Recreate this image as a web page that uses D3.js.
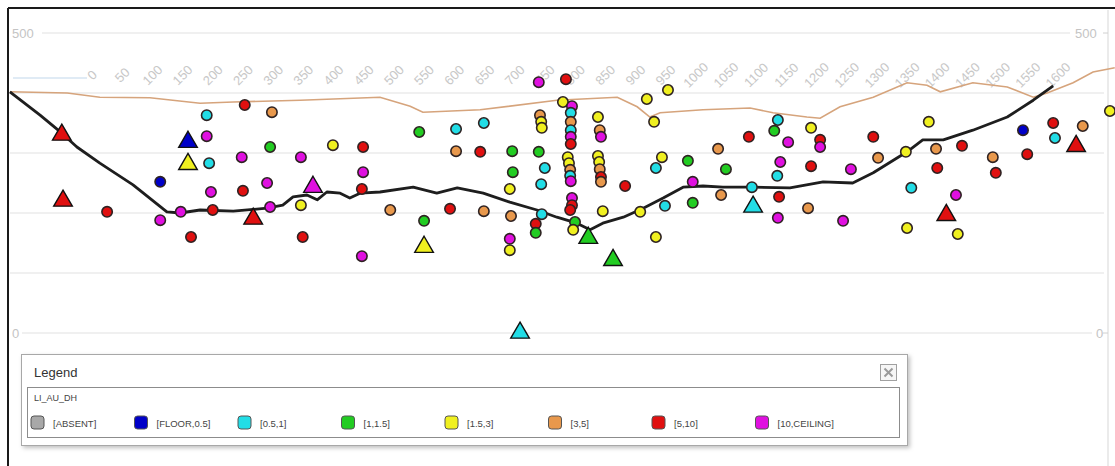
<!DOCTYPE html>
<html>
<head>
<meta charset="utf-8">
<script src="https://cdn.jsdelivr.net/npm/d3@7"></script>
<style>
  html, body { margin: 0; padding: 0; background: #fff; }
  svg { display: block; font-family: "Liberation Sans", Arial, sans-serif; }
</style>
</head>
<body>
<div id="chart"></div>
<script>
// legend classes for LI_AU_DH
var categories = ['[ABSENT]', '[FLOOR,0.5]', '[0.5,1]', '[1,1.5]', '[1.5,3]', '[3,5]', '[5,10]', '[10,CEILING]'];
var catColors = ['#a8a8a8', '#0000c8', '#22dde6', '#22cc22', '#f0f020', '#e8984c', '#e01010', '#e010e0'];

// section distance ticks along the top
var topTicks = [0, 50, 100, 150, 200, 250, 300, 350, 400, 450, 500, 550, 600, 650, 700, 750, 800,
   850, 900, 950, 1000, 1050, 1100, 1150, 1200, 1250, 1300, 1350, 1400, 1450, 1500, 1550, 1600];
var elevTicks = [0, 100, 200, 300, 400, 500];
var elevLabels = [0, 500];

// topography (tan)
var surfX = [-136, -41, 13, 96, 179, 234, 345, 477, 527, 548, 643, 770, 870, 903, 924, 941, 1012, 1090,
   1128, 1184, 1206, 1239, 1294, 1350, 1383, 1405, 1459, 1516, 1559, 1582, 1625, 1658, 1694];
var surfY = [402, 400, 393, 392, 383, 385, 388, 393, 378, 368, 372, 388, 393, 377, 360, 367, 372, 375,
   367, 360, 358, 377, 393, 417, 413, 402, 417, 410, 393, 400, 417, 435, 442];

// lower surface (black)
var lineX = [-136, -86, -50, -25, 13, 68, 124, 146, 179, 234, 290, 316, 333, 356, 373, 389, 411, 427, 444, 477,
   532, 571, 605, 648, 692, 737, 770, 803, 825, 846, 880, 913, 946, 979, 1012, 1045, 1093, 1156, 1211, 1260,
   1294, 1350, 1376, 1410, 1459, 1516, 1559, 1592];
var lineY = [402, 363, 333, 310, 283, 247, 202, 200, 205, 203, 208, 213, 227, 230, 222, 235, 233, 225, 233, 235,
   243, 233, 242, 233, 218, 205, 193, 183, 172, 183, 193, 208, 225, 243, 245, 243, 243, 242, 252, 250,
   267, 302, 322, 322, 338, 360, 388, 412];

// drill hole samples (circles)
var sampleX = [25, 113, 113, 147, 190, 194, 197, 164, 200, 190, 253, 248, 250, 298, 295, 290, 295, 346, 346, 349,
   399, 449, 449, 447, 447, 494, 550, 542, 603, 603, 643, 649, 593, 649, 696, 697, 692, 694, 692, 692,
   740, 750, 744, 745, 735, 735, 740, 785, 742, 744, 745, 780, 795, 793, 793, 793, 793, 793, 788, 790,
   792, 792, 793, 795, 795, 792, 800, 797, 838, 841, 843, 838, 840, 841, 843, 843, 846, 883, 908, 934,
   949, 944, 934, 931, 919, 954, 987, 995, 995, 1037, 1050, 1042, 1088, 1093, 1136, 1130, 1153, 1140, 1135, 1138,
   1136, 1191, 1206, 1206, 1191, 1186, 1244, 1257, 1294, 1302, 1348, 1386, 1357, 1350, 1398, 1400, 1441, 1431, 1434, 1492,
   1497, 1542, 1549, 1592, 1595, 1641, 1686];
var sampleY = [202, 252, 188, 202, 328, 283, 235, 160, 205, 363, 380, 293, 237, 368, 310, 250, 210, 293, 213, 160,
   313, 310, 268, 240, 128, 205, 187, 335, 340, 303, 302, 350, 207, 203, 303, 268, 240, 195, 157, 138,
   302, 275, 248, 198, 182, 167, 418, 423, 363, 352, 342, 385, 378, 367, 352, 338, 327, 315, 293, 283,
   272, 262, 253, 225, 213, 205, 185, 172, 360, 338, 327, 295, 285, 273, 260, 252, 203, 245, 202, 160,
   212, 293, 275, 352, 390, 405, 287, 217, 252, 307, 273, 230, 327, 243, 355, 337, 318, 285, 262, 227,
   192, 342, 322, 310, 278, 208, 187, 273, 327, 292, 302, 352, 242, 175, 307, 275, 312, 230, 165, 293,
   267, 338, 298, 350, 325, 345, 370];
var sampleCat = [6, 1, 7, 7, 7, 2, 7, 6, 6, 2, 6, 7, 6, 5, 3, 7, 7, 7, 4, 6,
   4, 6, 7, 6, 7, 5, 3, 3, 2, 5, 6, 2, 6, 5, 3, 3, 4, 5, 7, 4,
   3, 2, 2, 2, 6, 3, 7, 6, 5, 4, 4, 4, 7, 2, 5, 2, 7, 6, 4, 4,
   5, 2, 7, 7, 6, 6, 3, 4, 4, 5, 7, 4, 4, 5, 6, 5, 4, 6, 4, 4,
   2, 4, 2, 4, 4, 4, 3, 3, 7, 5, 3, 5, 6, 2, 2, 3, 7, 7, 2, 6,
   7, 4, 6, 7, 6, 5, 7, 7, 6, 5, 4, 4, 2, 4, 5, 6, 6, 7, 4, 5,
   6, 1, 6, 6, 2, 5, 4];

// composite points (triangles)
var triX = [-50, -48, 159, 159, 267, 366, 550, 822, 863, 1095, 1415, 1630, 709];
var triY = [332, 222, 320, 283, 192, 245, 145, 160, 123, 212, 198, 313, 2];
var triCat = [6, 6, 1, 4, 6, 7, 4, 3, 3, 2, 6, 6, 2];

var width = 1115;
var height = 466;

var x = d3.scaleLinear().domain([0, 1600]).range([92, 1058]);
var y = d3.scaleLinear().domain([0, 500]).range([333, 33]);

var svg = d3.select('#chart')
   .append('svg')
   .attr('width', width)
   .attr('height', height);

var defs = svg.append('defs');
var shadow = defs.append('filter').attr('id', 'shadow')
   .attr('x', '-5%').attr('y', '-20%').attr('width', '110%').attr('height', '150%');
shadow.append('feDropShadow')
   .attr('dx', 2).attr('dy', 2).attr('stdDeviation', 2)
   .attr('flood-color', '#000').attr('flood-opacity', 0.25);

svg.append('rect').attr('width', width).attr('height', height).attr('fill', '#fff');

// grid lines, with gaps where the labels sit
svg.selectAll('.grid')
   .data(elevTicks)
   .enter()
   .append('line')
   .attr('class', 'grid')
   .attr('x1', function(d) { return d === 500 ? 42 : (d === 0 ? 22 : 10); })
   .attr('x2', function(d) { return d === 500 ? 1070 : (d === 0 ? 1092 : 1104); })
   .attr('y1', function(d) { return y(d); })
   .attr('y2', function(d) { return y(d); })
   .attr('stroke', '#ebebeb')
   .attr('stroke-width', 1.5);

// right axis
svg.append('line')
   .attr('x1', 1108).attr('x2', 1108).attr('y1', 10).attr('y2', height)
   .attr('stroke', '#e4e4e4').attr('stroke-width', 1.5);
svg.selectAll('.rtick')
   .data(elevLabels)
   .enter()
   .append('line')
   .attr('x1', 1103).attr('x2', 1108)
   .attr('y1', function(d) { return y(d); })
   .attr('y2', function(d) { return y(d); })
   .attr('stroke', '#d0d0d0');

svg.selectAll('.ylabel-l')
   .data(elevLabels)
   .enter()
   .append('text')
   .attr('x', 12)
   .attr('y', function(d) { return y(d); })
   .attr('dy', '0.35em')
   .attr('font-size', 13)
   .attr('fill', '#c4c4c4')
   .text(function(d) { return d; });

svg.selectAll('.ylabel-r')
   .data(elevLabels)
   .enter()
   .append('text')
   .attr('x', function(d) { return d === 0 ? 1096 : 1075; })
   .attr('y', function(d) { return y(d); })
   .attr('dy', '0.35em')
   .attr('font-size', 13)
   .attr('fill', '#c4c4c4')
   .text(function(d) { return d; });

// top distance labels
svg.append('line')
   .attr('x1', 13).attr('x2', 87).attr('y1', 78).attr('y2', 78)
   .attr('stroke', '#d6e4f2').attr('stroke-width', 1.5);

svg.selectAll('.xlabel')
   .data(topTicks)
   .enter()
   .append('text')
   .attr('class', 'xlabel')
   .attr('transform', function(d) { return 'translate(' + x(d) + ',75) rotate(-45)'; })
   .attr('text-anchor', 'middle')
   .attr('dy', '0.35em')
   .attr('font-size', 13)
   .attr('fill', '#c8c8c8')
   .text(function(d) { return d; });

// surfaces
var surf = surfX.map(function(d, i) { return [d, surfY[i]]; });
var lower = lineX.map(function(d, i) { return [d, lineY[i]]; });
var path = d3.line()
   .x(function(d) { return x(d[0]); })
   .y(function(d) { return y(d[1]); });

svg.append('path')
   .datum(surf)
   .attr('d', path)
   .attr('fill', 'none')
   .attr('stroke', '#d6a47c')
   .attr('stroke-width', 1.6);

svg.append('path')
   .datum(lower)
   .attr('d', path)
   .attr('fill', 'none')
   .attr('stroke', '#1e1e1e')
   .attr('stroke-width', 2.8)
   .attr('stroke-linejoin', 'round');

// samples
var samples = sampleX.map(function(d, i) { return { x: d, y: sampleY[i], c: sampleCat[i] }; });
svg.selectAll('.sample')
   .data(samples)
   .enter()
   .append('circle')
   .attr('class', 'sample')
   .attr('cx', function(d) { return x(d.x); })
   .attr('cy', function(d) { return y(d.y); })
   .attr('r', 5.2)
   .attr('fill', function(d) { return catColors[d.c]; })
   .attr('stroke', '#2e2222')
   .attr('stroke-width', 1.6);

var tris = triX.map(function(d, i) { return { x: d, y: triY[i], c: triCat[i] }; });
var tri = d3.symbol().type(d3.symbolTriangle).size(150);
svg.selectAll('.tri')
   .data(tris)
   .enter()
   .append('path')
   .attr('class', 'tri')
   .attr('d', tri)
   .attr('transform', function(d) { return 'translate(' + x(d.x) + ',' + (y(d.y) + 1) + ')'; })
   .attr('fill', function(d) { return catColors[d.c]; })
   .attr('stroke', '#111')
   .attr('stroke-width', 1.4);

// frame
svg.append('line').attr('x1', 8).attr('x2', width).attr('y1', 8).attr('y2', 8)
   .attr('stroke', '#1a1a1a').attr('stroke-width', 2);
svg.append('line').attr('x1', 8).attr('x2', 8).attr('y1', 8).attr('y2', height)
   .attr('stroke', '#1a1a1a').attr('stroke-width', 2);

// legend panel
var legend = svg.append('g').attr('class', 'legend');
legend.append('rect')
   .attr('x', 21.5).attr('y', 354.5).attr('width', 886).attr('height', 91)
   .attr('fill', '#fff').attr('stroke', '#a8a8a8')
   .attr('filter', 'url(#shadow)');
legend.append('text')
   .attr('x', 34).attr('y', 377)
   .attr('font-size', 13).attr('fill', '#333')
   .text('Legend');

var closeBtn = legend.append('g').attr('transform', 'translate(880,364)');
closeBtn.append('rect')
   .attr('x', 0.5).attr('y', 0.5).attr('width', 16).attr('height', 16)
   .attr('fill', '#f6f6f6').attr('stroke', '#a0a0a0');
closeBtn.append('path')
   .attr('d', 'M4.5,4.5 L12.5,12.5 M12.5,4.5 L4.5,12.5')
   .attr('stroke', '#9a9a9a').attr('stroke-width', 2);

legend.append('rect')
   .attr('x', 27.5).attr('y', 387.5).attr('width', 872).attr('height', 50)
   .attr('fill', '#fff').attr('stroke', '#8c8c8c');
legend.append('text')
   .attr('x', 34).attr('y', 401)
   .attr('font-size', 9).attr('fill', '#444')
   .text('LI_AU_DH');

var item = legend.selectAll('.item')
   .data(categories)
   .enter()
   .append('g')
   .attr('class', 'item')
   .attr('transform', function(d, i) { return 'translate(' + (31 + i * 103.5) + ',416)'; });

item.append('rect')
   .attr('width', 13).attr('height', 13).attr('rx', 3)
   .attr('fill', function(d, i) { return catColors[i]; })
   .attr('stroke', '#555');

item.append('text')
   .attr('x', 22).attr('y', 10.5)
   .attr('font-size', 9.5).attr('fill', '#444')
   .text(function(d) { return d; });
</script>
</body>
</html>
